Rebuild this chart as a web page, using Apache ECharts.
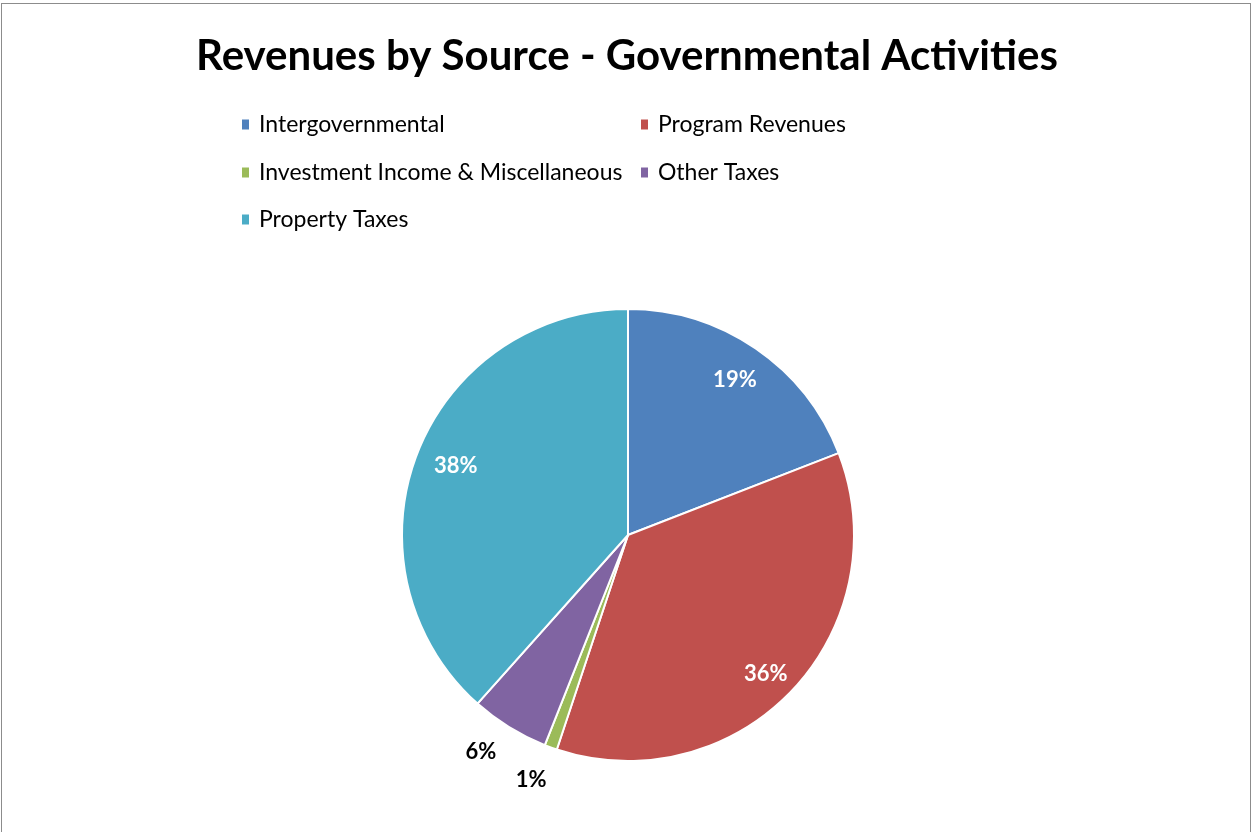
<!DOCTYPE html>
<html>
<head>
<meta charset="utf-8">
<script src="https://cdn.jsdelivr.net/npm/echarts@6/dist/echarts.min.js"></script>
<style>
html,body{margin:0;padding:0;background:#fff;overflow:hidden;}
#frame{position:absolute;left:1px;top:3px;width:1250px;height:900px;border:1px solid #8c8c8c;box-sizing:border-box;pointer-events:none;z-index:2;}
#chart{position:absolute;left:0;top:0;width:1254px;height:832px;}
</style>
</head>
<body>
<div id="chart"></div>
<div id="frame"></div>
<script>
const title = 'Revenues by Source - Governmental Activities';
const categories = ['Intergovernmental', 'Program Revenues', 'Investment Income & Miscellaneous', 'Other Taxes', 'Property Taxes'];
const values = [19.1, 36.0, 0.9, 5.6, 38.4];
const colors = ['#4F81BD', '#C0504D', '#9BBB59', '#8064A2', '#4BACC6'];
const insideLabel = [true, true, false, false, true];
const labelNudge = [[-2, 4], [-2, 6], [-7, -2], [-9, -7], [8, 0]];

const FONT = 'Lato, "Noto Sans", sans-serif';
const cx = 628, cy = 535, R = 226;

const chart = echarts.init(document.getElementById('chart'), null, {renderer: 'canvas'});

const legendPos = [
  {left: 235, top: 108},
  {left: 634, top: 108},
  {left: 235, top: 156},
  {left: 634, top: 156},
  {left: 235, top: 203}
];
const legends = categories.map((c, i) => ({
  data: [c],
  left: legendPos[i].left,
  top: legendPos[i].top,
  orient: 'horizontal',
  icon: 'rect',
  itemWidth: 9,
  itemHeight: 12,
  itemGap: 0,
  selectedMode: false,
  textStyle: {fontFamily: FONT, fontSize: 23, color: '#000', padding: [0, 0, 0, 4]}
}));

const baseData = categories.map((c, i) => ({name: c, value: values[i], itemStyle: {color: colors[i]}}));

const option = {
  animation: false,
  backgroundColor: '#fff',
  title: {
    text: title,
    left: 'center',
    top: 30,
    textStyle: {fontFamily: FONT, fontWeight: 'bold', fontSize: 42, color: '#000'}
  },
  legend: legends,
  series: [
    {
      type: 'pie',
      center: [cx, cy],
      radius: [0, R],
      startAngle: 90,
      clockwise: true,
      label: {show: false},
      labelLine: {show: false},
      itemStyle: {borderColor: '#fff', borderWidth: 2},
      emphasis: {disabled: true},
      data: baseData
    },
    {
      type: 'pie',
      center: [cx, cy],
      radius: [R * 0.72, R * 0.96],
      startAngle: 90,
      clockwise: true,
      silent: true,
      legendHoverLink: false,
      itemStyle: {color: 'rgba(0,0,0,0)', borderWidth: 0},
      labelLine: {show: false},
      emphasis: {disabled: true},
      label: {
        show: true,
        position: 'inside',
        formatter: p => Math.round(p.value) + '%',
        fontFamily: FONT, fontWeight: 'bold', fontSize: 22, color: '#fff'
      },
      data: categories.map((c, i) => ({name: c, value: values[i], label: {show: insideLabel[i], offset: labelNudge[i]}}))
    },
    {
      type: 'pie',
      center: [cx, cy],
      radius: [R * 1.08, R * 1.22],
      startAngle: 90,
      clockwise: true,
      silent: true,
      legendHoverLink: false,
      itemStyle: {color: 'rgba(0,0,0,0)', borderWidth: 0},
      labelLine: {show: false},
      emphasis: {disabled: true},
      label: {
        show: true,
        position: 'inside',
        formatter: p => Math.round(p.value) + '%',
        fontFamily: FONT, fontWeight: 'bold', fontSize: 22, color: '#000'
      },
      data: categories.map((c, i) => ({name: c, value: values[i], label: {show: !insideLabel[i], offset: labelNudge[i]}}))
    }
  ]
};
chart.setOption(option);
</script>
</body>
</html>
